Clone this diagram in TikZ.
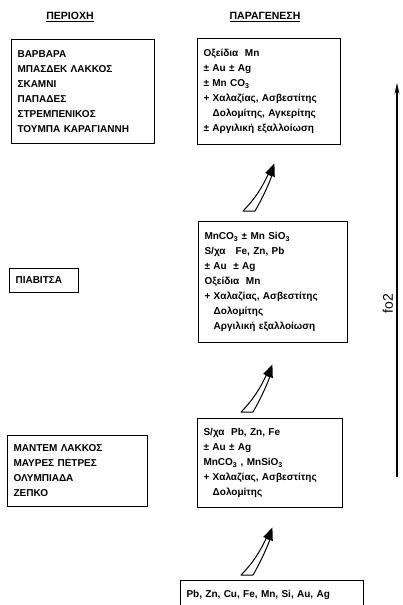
\documentclass[tikz,border=0pt]{standalone}
\usepackage{fontspec}
\setmainfont{Liberation Sans}
\usetikzlibrary{positioning,calc,arrows.meta}

\newcommand{\boxfont}{\fontsize{10}{15}\selectfont\bfseries}
\newcommand{\headfont}{\fontsize{10.5}{12}\selectfont\bfseries}
\newcommand{\ind}{\phantom{+ }}

\tikzset{
  hollow/.pic={
    \draw[line width=1pt,line join=round,fill=white] (-6,0) -- (6,0)
       .. controls (13,-12) and (19,-25) .. (22.9,-35.3) -- (19.1,-36.7)
       .. controls (14,-25) and (6,-12) .. (-6,0) -- cycle;
    \fill (25.8,-33.9) -- (25.4,-47.5) -- (16.2,-38.1) -- cycle;
  }
}

\begin{document}
\begin{tikzpicture}[x=1pt,y=-1pt,
   box/.style={draw,line width=1.1pt,anchor=north west,align=left,inner xsep=6pt,font=\boxfont},
   head/.style={font=\headfont}]
   \clip (0,0) rectangle (402,605);
   % headings
   \node[head] (perioxi) at (70,17) {\underline{ΠΕΡΙΟΧΗ}};
   \node[head] (paragenesi) at (265,17) {\underline{ΠΑΡΑΓΕΝΕΣΗ}};
   % areas
   \node[box,text width=131pt,minimum height=104pt] (perioxi1) at (11,39)
      {ΒΑΡΒΑΡΑ\\ΜΠΑΣΔΕΚ ΛΑΚΚΟΣ\\ΣΚΑΜΝΙ\\ΠΑΠΑΔΕΣ\\ΣΤΡΕΜΠΕΝΙΚΟΣ\\ΤΟΥΜΠΑ ΚΑΡΑΓΙΑΝΝΗ};
   \node[box,text width=57pt,minimum height=24pt] (perioxi2) at (9,268) {ΠΙΑΒΙΤΣΑ};
   \node[box,text width=128pt,minimum height=71pt] (perioxi3) at (7,435)
      {ΜΑΝΤΕΜ ΛΑΚΚΟΣ\\ΜΑΥΡΕΣ ΠΕΤΡΕΣ\\ΟΛΥΜΠΙΑΔΑ\\ΖΕΠΚΟ};
   % paragenesis
   \node[box,text width=131pt,minimum height=106pt] (parag1) at (197,38)
      {Οξείδια\ \ Mn\\± Au ± Ag\\± Mn CO\textsubscript{3}\\+ Χαλαζίας, Ασβεστίτης\\\ind Δολομίτης, Αγκερίτης\\± Αργιλική εξαλλοίωση};
   \node[box,text width=137pt,minimum height=121pt] (parag2) at (198,221)
      {MnCO\textsubscript{3} ± Mn SiO\textsubscript{3}\\S/χα\ \ \ Fe, Zn, Pb\\± Au\ \ ± Ag\\Οξείδια\ \ Mn\\+ Χαλαζίας, Ασβεστίτης\\\ind Δολομίτης\\\ind Αργιλική εξαλλοίωση};
   \node[box,text width=133pt,minimum height=89pt] (parag3) at (197,418)
      {S/χα\ \ Pb, Zn, Fe\\± Au ± Ag\\MnCO\textsubscript{3} , MnSiO\textsubscript{3}\\+ Χαλαζίας, Ασβεστίτης\\\ind Δολομίτης};
   \node[box,text width=171pt,minimum height=28pt] (parag4) at (180,580)
      {Pb, Zn, Cu, Fe, Mn, Si, Au, Ag};
   % hollow arrows
   \coordinate (a1) at ($(parag2.north west)+(51,-10)$);
   \coordinate (a2) at ($(parag3.north west)+(50,-6)$);
   \coordinate (a3) at ($(parag4.north west)+(67,-5)$);
   \foreach \a in {a1,a2,a3}
      \pic at (\a) {hollow};
   % fO2 axis
   \coordinate (fbot) at (397,477);
   \coordinate (ftop) at (397,83);
   \draw[-{Stealth[length=11pt,width=5pt]},line width=1.2pt] (fbot) -- (ftop)
      node[pos=0.44,anchor=south,rotate=90,font=\fontsize{14}{16}\selectfont] (fo) {fo2};
\end{tikzpicture}
\end{document}
